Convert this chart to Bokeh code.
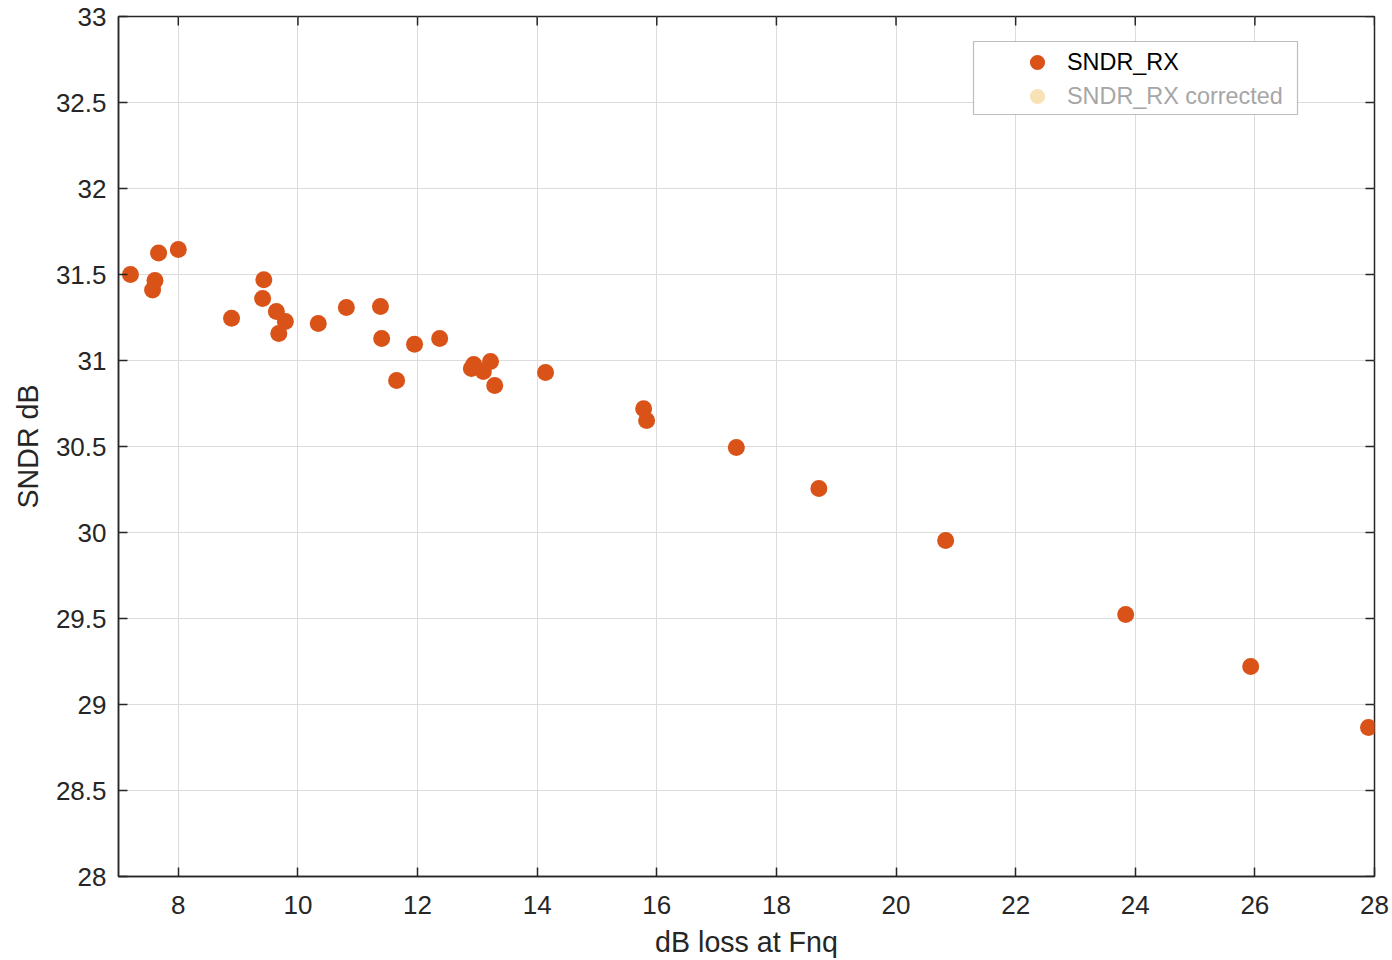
from bokeh.plotting import figure
from bokeh.models import (Range1d, LinearAxis, FixedTicker, Legend, LegendItem, BoxAnnotation)
from bokeh.embed import file_html
from bokeh.resources import INLINE

# Data
loss_db = [7.20, 7.57, 7.61, 7.67, 8.00, 8.89, 9.41, 9.43, 9.64, 9.68, 9.79,
           10.34, 10.81, 11.38, 11.40, 11.65, 11.95, 12.37, 12.90, 12.94,
           13.10, 13.22, 13.29, 14.14, 15.78, 15.83, 17.33, 18.71, 20.83,
           23.84, 25.93, 27.90]
sndr_db = [31.50, 31.41, 31.465, 31.625, 31.645, 31.245, 31.36, 31.47, 31.285,
           31.157, 31.227, 31.215, 31.308, 31.314, 31.128, 30.884, 31.095,
           31.128, 30.953, 30.977, 30.936, 30.994, 30.855, 30.93, 30.72,
           30.651, 30.494, 30.256, 29.953, 29.523, 29.221, 28.866]
# the corrected series is hidden in the chart (only its legend entry shows)
loss_db_corrected = [float("nan")]
sndr_db_corrected = [float("nan")]
x_ticks = [8, 10, 12, 14, 16, 18, 20, 22, 24, 26, 28]
y_ticks = [28, 28.5, 29, 29.5, 30, 30.5, 31, 31.5, 32, 32.5, 33]
y_tick_labels = ["28", "28.5", "29", "29.5", "30", "30.5", "31", "31.5", "32", "32.5", "33"]
series_names = ["SNDR_RX", "SNDR_RX corrected"]

X0, X1, Y0, Y1 = 7, 28, 28, 33
FONT = "Liberation Sans"
DARK = "#262626"
W, H = 1392, 960
BL, BR, BT, BB = 118, 18, 16, 84
FW, FH = W - BL - BR, H - BT - BB
TICK = 9

p = figure(width=W, height=H, output_backend="svg", toolbar_location=None,
           x_range=Range1d(X0, X1), y_range=Range1d(Y0, Y1),
           min_border_left=BL, min_border_right=BR, min_border_top=BT,
           min_border_bottom=BB, x_axis_location=None, y_axis_location=None)
p.outline_line_color = DARK
p.outline_line_width = 1.5
p.background_fill_color = "white"
p.border_fill_color = "white"

def style_axis(ax):
    ax.axis_line_color = DARK
    ax.axis_line_width = 1.5
    ax.major_tick_line_color = DARK
    ax.major_tick_line_width = 1.5
    ax.major_tick_in = TICK
    ax.major_tick_out = 0
    ax.minor_tick_line_color = None
    ax.major_label_text_font = FONT
    ax.major_label_text_color = DARK
    ax.major_label_text_font_size = "26px"
    ax.axis_label_text_font = FONT
    ax.axis_label_text_font_size = "28.6px"
    ax.axis_label_text_font_style = "normal"
    ax.axis_label_text_color = DARK

xb = LinearAxis(ticker=FixedTicker(ticks=x_ticks), axis_label="dB loss at Fnq")
style_axis(xb)
xb.major_label_standoff = 19
xb.axis_label_standoff = 9
p.add_layout(xb, "below")
yl = LinearAxis(ticker=FixedTicker(ticks=y_ticks), axis_label="SNDR dB")
style_axis(yl)
yl.major_label_standoff = 12
yl.major_label_overrides = {t: l for t, l in zip(y_ticks, y_tick_labels)}
yl.axis_label_standoff = 9
p.add_layout(yl, "left")

# inward ticks on the top and right edges of the box
dy = TICK * (Y1 - Y0) / FH
dx = TICK * (X1 - X0) / FW
p.segment(x0=x_ticks, y0=[Y1] * len(x_ticks), x1=x_ticks, y1=[Y1 - dy] * len(x_ticks),
          line_color=DARK, line_width=1.5)
p.segment(x0=[X1] * len(y_ticks), y0=y_ticks, x1=[X1 - dx] * len(y_ticks), y1=y_ticks,
          line_color=DARK, line_width=1.5)

p.xgrid.ticker = FixedTicker(ticks=x_ticks)
p.ygrid.ticker = FixedTicker(ticks=y_ticks)
p.xgrid.grid_line_color = "#dcdcdc"
p.ygrid.grid_line_color = "#dcdcdc"
p.xgrid.grid_line_width = 1
p.ygrid.grid_line_width = 1

r1 = p.scatter(loss_db, sndr_db, size=17, marker="circle",
               fill_color="#D95319", line_color="#D95319", line_width=0)
r2 = p.scatter(loss_db_corrected, sndr_db_corrected, size=17, marker="circle",
               fill_color="#F7E1B5", line_color="#F7E1B5", line_width=0)

# Legend frame, from its pixel box on the canvas
def px2x(px):
    return X0 + (px - BL) * (X1 - X0) / FW

def py2y(py):
    return Y1 - (py - BT) * (Y1 - Y0) / FH

p.add_layout(BoxAnnotation(left=px2x(973), right=px2x(1297), bottom=py2y(114), top=py2y(41),
                           fill_color="white", fill_alpha=1.0,
                           line_color=DARK, line_width=1.2, level="overlay"))

def make_legend(item, renderer, color, y):
    return Legend(items=[LegendItem(label=item, renderers=[renderer], index=0)],
                  location=(900, y), orientation="vertical",
                  border_line_color=None, background_fill_alpha=0,
                  label_text_font=FONT, label_text_font_size="23.4px",
                  label_text_color=color, glyph_width=38, glyph_height=38,
                  label_height=20, label_standoff=11, padding=0, margin=0,
                  spacing=0)

p.add_layout(make_legend(series_names[0], r1, "#000000", 795), "center")
p.add_layout(make_legend(series_names[1], r2, "#a6a6a6", 761), "center")

open("out.html", "w").write(file_html(p, INLINE))
